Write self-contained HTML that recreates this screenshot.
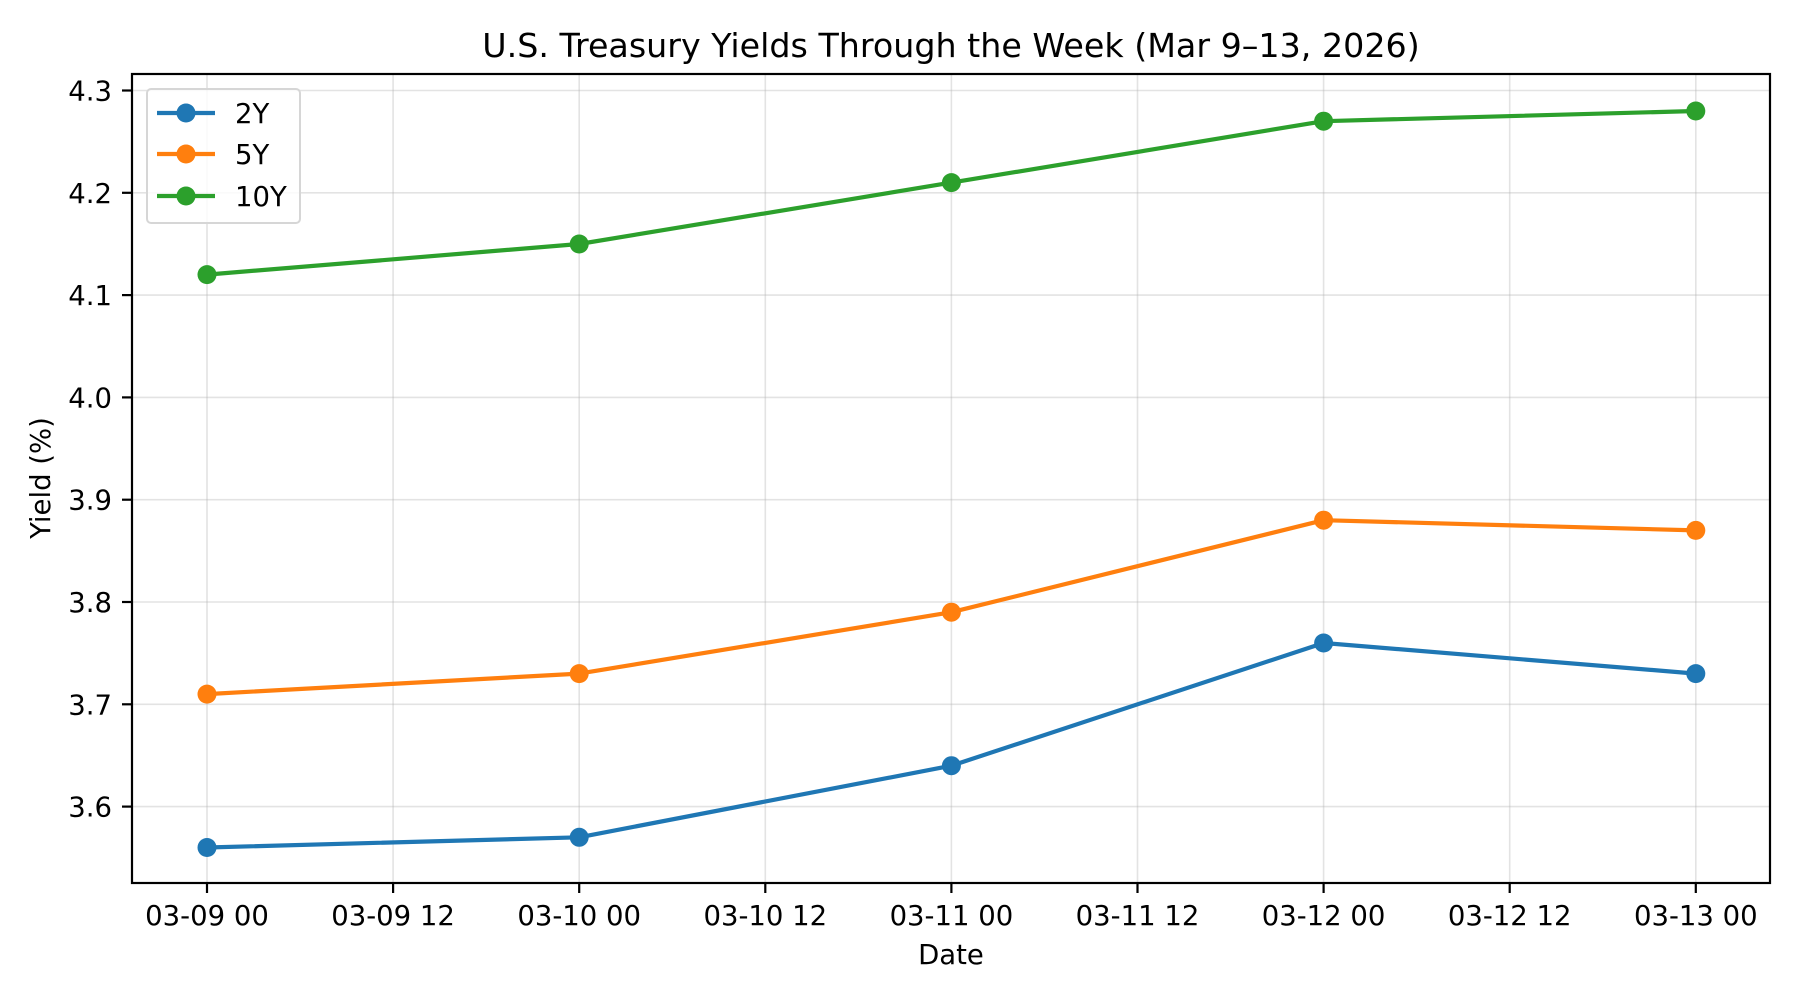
<!DOCTYPE html>
<html><head><meta charset="utf-8"><style>
html,body{margin:0;padding:0;background:#fff;}
svg{display:block;font-family:"DejaVu Sans","Liberation Sans",sans-serif;}
</style></head><body>
<svg width="1800" height="1000" viewBox="0 0 1800 1000" xmlns="http://www.w3.org/2000/svg">
<rect width="1800" height="1000" fill="#fff"/>
<g stroke="#b0b0b0" stroke-opacity="0.35" stroke-width="1.6">
<line x1="207" y1="74" x2="207" y2="883"/><line x1="393.1" y1="74" x2="393.1" y2="883"/>
<line x1="579.2" y1="74" x2="579.2" y2="883"/><line x1="765.3" y1="74" x2="765.3" y2="883"/>
<line x1="951.4" y1="74" x2="951.4" y2="883"/><line x1="1137.5" y1="74" x2="1137.5" y2="883"/>
<line x1="1323.6" y1="74" x2="1323.6" y2="883"/><line x1="1509.7" y1="74" x2="1509.7" y2="883"/>
<line x1="1695.8" y1="74" x2="1695.8" y2="883"/>
<line x1="132" y1="90.5" x2="1770" y2="90.5"/><line x1="132" y1="192.8" x2="1770" y2="192.8"/>
<line x1="132" y1="295.1" x2="1770" y2="295.1"/><line x1="132" y1="397.4" x2="1770" y2="397.4"/>
<line x1="132" y1="499.7" x2="1770" y2="499.7"/><line x1="132" y1="602" x2="1770" y2="602"/>
<line x1="132" y1="704.3" x2="1770" y2="704.3"/><line x1="132" y1="806.6" x2="1770" y2="806.6"/>
</g>
<g fill="none" stroke-width="4.2" stroke-linejoin="round">
<polyline stroke="#1f77b4" points="207,847.5 579.2,837.3 951.4,765.7 1323.6,643 1695.8,673.6"/>
<polyline stroke="#ff7f0e" points="207,694.1 579.2,673.6 951.4,612.2 1323.6,520.2 1695.8,530.4"/>
<polyline stroke="#2ca02c" points="207,274.6 579.2,244 951.4,182.6 1323.6,121.2 1695.8,111"/>
</g>
<g fill="#1f77b4"><circle cx="207" cy="847.5" r="9.5"/><circle cx="579.2" cy="837.3" r="9.5"/><circle cx="951.4" cy="765.7" r="9.5"/><circle cx="1323.6" cy="643" r="9.5"/><circle cx="1695.8" cy="673.6" r="9.5"/></g>
<g fill="#ff7f0e"><circle cx="207" cy="694.1" r="9.5"/><circle cx="579.2" cy="673.6" r="9.5"/><circle cx="951.4" cy="612.2" r="9.5"/><circle cx="1323.6" cy="520.2" r="9.5"/><circle cx="1695.8" cy="530.4" r="9.5"/></g>
<g fill="#2ca02c"><circle cx="207" cy="274.6" r="9.5"/><circle cx="579.2" cy="244" r="9.5"/><circle cx="951.4" cy="182.6" r="9.5"/><circle cx="1323.6" cy="121.2" r="9.5"/><circle cx="1695.8" cy="111" r="9.5"/></g>
<rect x="132" y="74" width="1638" height="809" fill="none" stroke="#000" stroke-width="2.2"/>
<g stroke="#000" stroke-width="2.2">
<line x1="207" y1="883" x2="207" y2="893"/><line x1="393.1" y1="883" x2="393.1" y2="893"/>
<line x1="579.2" y1="883" x2="579.2" y2="893"/><line x1="765.3" y1="883" x2="765.3" y2="893"/>
<line x1="951.4" y1="883" x2="951.4" y2="893"/><line x1="1137.5" y1="883" x2="1137.5" y2="893"/>
<line x1="1323.6" y1="883" x2="1323.6" y2="893"/><line x1="1509.7" y1="883" x2="1509.7" y2="893"/>
<line x1="1695.8" y1="883" x2="1695.8" y2="893"/>
<line x1="122" y1="90.5" x2="132" y2="90.5"/><line x1="122" y1="192.8" x2="132" y2="192.8"/>
<line x1="122" y1="295.1" x2="132" y2="295.1"/><line x1="122" y1="397.4" x2="132" y2="397.4"/>
<line x1="122" y1="499.7" x2="132" y2="499.7"/><line x1="122" y1="602" x2="132" y2="602"/>
<line x1="122" y1="704.3" x2="132" y2="704.3"/><line x1="122" y1="806.6" x2="132" y2="806.6"/>
</g>
<g font-size="27.5" fill="#000" text-anchor="middle">
<text x="207" y="925">03-09 00</text><text x="393.1" y="925">03-09 12</text>
<text x="579.2" y="925">03-10 00</text><text x="765.3" y="925">03-10 12</text>
<text x="951.4" y="925">03-11 00</text><text x="1137.5" y="925">03-11 12</text>
<text x="1323.6" y="925">03-12 00</text><text x="1509.7" y="925">03-12 12</text>
<text x="1695.8" y="925">03-13 00</text>
</g>
<g font-size="27.5" fill="#000" text-anchor="end">
<text x="112" y="100.5">4.3</text><text x="112" y="202.8">4.2</text><text x="112" y="305.1">4.1</text>
<text x="112" y="407.4">4.0</text><text x="112" y="509.7">3.9</text><text x="112" y="612">3.8</text>
<text x="112" y="714.3">3.7</text><text x="112" y="816.6">3.6</text>
</g>
<text x="951" y="964" font-size="27.5" text-anchor="middle">Date</text>
<text x="0" y="0" font-size="27.5" text-anchor="middle" transform="translate(50,478) rotate(-90)">Yield (%)</text>
<text x="951" y="57" font-size="33.3" text-anchor="middle">U.S. Treasury Yields Through the Week (Mar 9–13, 2026)</text>
<rect x="147" y="89" width="153" height="134" rx="4" fill="#fff" fill-opacity="0.8" stroke="#d6d6d6" stroke-width="2"/>
<g stroke-width="4.2">
<line x1="157" y1="113" x2="215" y2="113" stroke="#1f77b4"/><circle cx="186" cy="113" r="9.5" fill="#1f77b4"/>
<line x1="157" y1="154" x2="215" y2="154" stroke="#ff7f0e"/><circle cx="186" cy="154" r="9.5" fill="#ff7f0e"/>
<line x1="157" y1="196" x2="215" y2="196" stroke="#2ca02c"/><circle cx="186" cy="196" r="9.5" fill="#2ca02c"/>
</g>
<g font-size="27.5" fill="#000">
<text x="235" y="123">2Y</text><text x="235" y="164">5Y</text><text x="235" y="206">10Y</text>
</g>
</svg>
</body></html>
